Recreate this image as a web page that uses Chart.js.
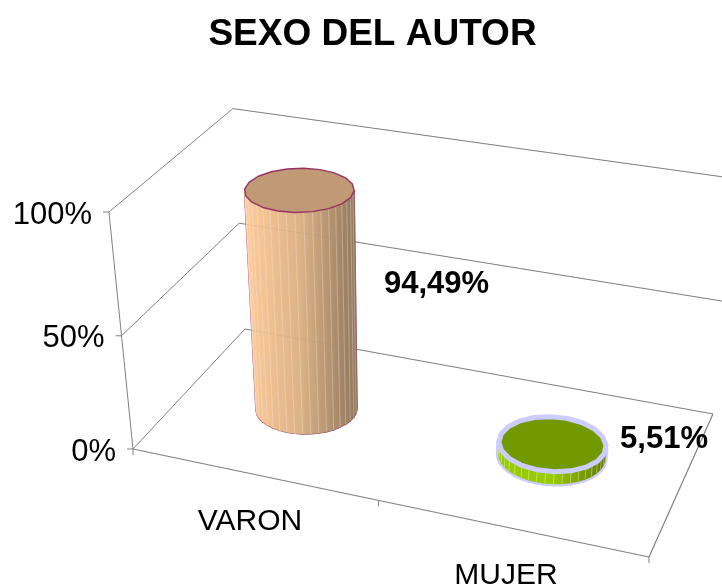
<!DOCTYPE html>
<html>
<head>
<meta charset="utf-8">
<title>SEXO DEL AUTOR</title>
<script src="https://cdn.jsdelivr.net/npm/chart.js@4/dist/chart.umd.js"></script>
<style>
  html, body { margin: 0; padding: 0; background: #fff; overflow: hidden; }
  canvas { display: block; }
</style>
</head>
<body>
<canvas id="chart" width="722" height="585"></canvas>
<script>
const categories = ['VARON', 'MUJER'];
const shares = [94.49, 5.51];
const axisTicks = [0, 50, 100];

const FONT = '"Liberation Sans", Arial, sans-serif';
const LINE = '#808080';

// camera for the box: u along categories, w into the page, v up (all 0..1)
const cam = {
  x: [456, 140.2, -33.3, 133],
  y: [56.5, -82.1, -255, 449],
  d: [-0.0924, 0.1152, -0.085, 1]
};
function project(u, w, v) {
  const d = cam.d[0] * u + cam.d[1] * w + cam.d[2] * v + cam.d[3];
  return {
    x: (cam.x[0] * u + cam.x[1] * w + cam.x[2] * v + cam.x[3]) / d,
    y: (cam.y[0] * u + cam.y[1] * w + cam.y[2] * v + cam.y[3]) / d
  };
}

const barStyles = [
  { side: ['#ffcc99', '#dcb286', '#8f765a'], top: '#bf9a75', edge: '#993366', edgeWidth: 1.4, stripe: 'rgba(255,255,255,0.3)' },
  { side: ['#99cc00', '#99cc00', '#5f7a00'], top: '#739900', edge: '#ccccff', edgeWidth: 5, stripe: 'rgba(255,255,255,0.35)' }
];
const BAR_DEPTH = 0.19;
const FACETS = 40;
const labelSpots = [{ x: 436.5, y: 284 }, { x: 664, y: 439 }];
const categorySpots = [{ x: 250, y: 522 }, { x: 506, y: 576 }];

function segment(ctx, a, b) {
  ctx.beginPath();
  ctx.moveTo(a.x, a.y);
  ctx.lineTo(b.x, b.y);
  ctx.stroke();
}

// scale pixel -> 0..1 inside the chart area
function frac(chart) {
  const a = chart.chartArea, sy = chart.scales.y;
  return value => (a.bottom - sy.getPixelForValue(value)) / a.height;
}

function drawBackLines(ctx, chart) {
  const fy = frac(chart);
  axisTicks.forEach(t => segment(ctx, project(0, 1, fy(t)), project(1, 1, fy(t))));
}

function drawBox(ctx, chart) {
  const fy = frac(chart);
  ctx.strokeStyle = LINE;
  ctx.lineWidth = 1;
  drawBackLines(ctx, chart);
  axisTicks.forEach(t => {
    const front = project(0, 0, fy(t));
    segment(ctx, front, project(0, 1, fy(t)));
    segment(ctx, front, { x: front.x - 6, y: front.y });
  });
  segment(ctx, project(0, 0, 0), project(0, 0, 1));
  // floor
  ctx.lineWidth = 1.2;
  segment(ctx, project(0, 0, 0), project(1, 0, 0));
  segment(ctx, project(1, 0, 0), project(1, 1, 0));
  ctx.lineWidth = 1;
  [0, 0.5, 1].forEach(u => {
    const p = project(u, 0, 0);
    segment(ctx, p, { x: p.x, y: p.y + 6 });
  });
}

function drawCylinder(ctx, u0, ru, height, st) {
  const w0 = 0.5;
  const low = [], high = [];
  for (let i = 0; i < FACETS; i++) {
    const t = i / FACETS * Math.PI * 2;
    const u = u0 + ru * Math.cos(t), w = w0 + BAR_DEPTH * Math.sin(t);
    low.push(project(u, w, 0));
    high.push(project(u, w, height));
  }
  const xs = low.concat(high).map(p => p.x);
  const g = ctx.createLinearGradient(Math.min(...xs), 0, Math.max(...xs), 0);
  g.addColorStop(0, st.side[0]);
  g.addColorStop(0.5, st.side[1]);
  g.addColorStop(1, st.side[2]);

  const front = [];
  for (let i = 0; i < FACETS; i++) {
    const j = (i + 1) % FACETS;
    const q = [low[i], low[j], high[j], high[i]];
    let area = 0;
    q.forEach((p, k) => { const n = q[(k + 1) % 4]; area += p.x * n.y - n.x * p.y; });
    if (area < 0) front.push(q);
  }
  ctx.lineJoin = 'round';
  // silhouette first, so the outline stays outside of the facets
  ctx.strokeStyle = st.edge;
  ctx.lineWidth = st.edgeWidth;
  front.forEach(q => {
    ctx.beginPath();
    q.forEach((p, k) => k ? ctx.lineTo(p.x, p.y) : ctx.moveTo(p.x, p.y));
    ctx.closePath();
    ctx.stroke();
  });
  front.forEach(q => {
    ctx.beginPath();
    q.forEach((p, k) => k ? ctx.lineTo(p.x, p.y) : ctx.moveTo(p.x, p.y));
    ctx.closePath();
    ctx.fillStyle = g;
    ctx.fill();
    ctx.strokeStyle = g;
    ctx.lineWidth = 0.6;
    ctx.stroke();
  });
  ctx.strokeStyle = st.stripe;
  ctx.lineWidth = 1;
  front.forEach(q => segment(ctx, q[0], q[3]));

  // cap is a coarser polygon, like the original render
  ctx.beginPath();
  high.filter((p, k) => k % 2 === 0).forEach((p, k) => k ? ctx.lineTo(p.x, p.y) : ctx.moveTo(p.x, p.y));
  ctx.closePath();
  ctx.fillStyle = st.top;
  ctx.fill();
  ctx.strokeStyle = st.edge;
  ctx.lineWidth = st.edgeWidth;
  ctx.stroke();
}

const box3d = {
  id: 'box3d',
  beforeDatasetDraw() { return false; },
  afterDatasetsDraw(chart) {
    const ctx = chart.ctx, area = chart.chartArea, fy = frac(chart);
    const bars = chart.getDatasetMeta(0).data;
    ctx.save();
    drawBox(ctx, chart);
    bars.forEach((bar, i) => {
      const u0 = (bar.x - area.left) / area.width;
      const ru = bar.width / 2 / area.width;
      drawCylinder(ctx, u0, ru, fy(shares[i]), barStyles[i]);
    });
    // the walls show faintly through the bars
    ctx.globalAlpha = 0.12;
    ctx.strokeStyle = LINE;
    ctx.lineWidth = 1;
    drawBackLines(ctx, chart);
    ctx.globalAlpha = 1;

    ctx.fillStyle = '#000';
    ctx.textBaseline = 'middle';
    ctx.font = '31px ' + FONT;
    ctx.textAlign = 'right';
    axisTicks.forEach((t, i) => {
      const p = project(0, 0, fy(t));
      ctx.fillText(t + '%', p.x - 17, p.y + 3);
    });
    ctx.font = '30px ' + FONT;
    ctx.textAlign = 'center';
    categories.forEach((c, i) => ctx.fillText(c, categorySpots[i].x, categorySpots[i].y));
    ctx.font = 'bold 31px ' + FONT;
    shares.forEach((s, i) => {
      ctx.fillText(s.toFixed(2).replace('.', ',') + '%', labelSpots[i].x, labelSpots[i].y);
    });
    ctx.restore();
  }
};

new Chart(document.getElementById('chart'), {
  type: 'bar',
  data: {
    labels: categories,
    datasets: [{
      data: shares,
      backgroundColor: barStyles.map(s => s.side[0]),
      borderColor: barStyles.map(s => s.edge),
      categoryPercentage: 0.4,
      barPercentage: 1
    }]
  },
  options: {
    responsive: false,
    animation: false,
    layout: { padding: { left: 23 } },
    scales: {
      x: { display: false },
      y: { display: false, min: 0, max: 100 }
    },
    plugins: {
      legend: { display: false },
      tooltip: { enabled: false },
      title: {
        display: true,
        text: 'SEXO DEL AUTOR',
        color: '#000',
        font: { family: FONT, size: 37, weight: 'bold' },
        padding: { top: 13, bottom: 10 }
      }
    }
  },
  plugins: [box3d]
});
</script>
</body>
</html>
